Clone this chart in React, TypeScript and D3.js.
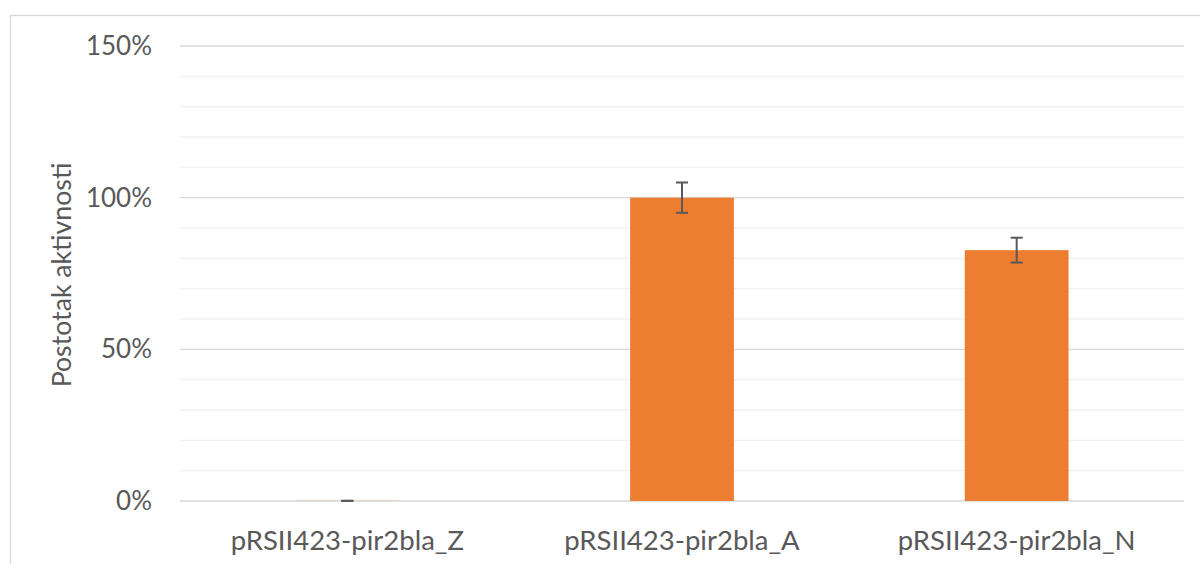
import React from "react";
import * as d3 from "d3";

const categories = ["pRSII423-pir2bla_Z", "pRSII423-pir2bla_A", "pRSII423-pir2bla_N"];
const values = [0.0005, 1.0, 0.827];
const errors = [0.0005, 0.05, 0.041];
const majorTicks = [0, 0.5, 1.0, 1.5];
const minorTicks = [0.1, 0.2, 0.3, 0.4, 0.6, 0.7, 0.8, 0.9, 1.1, 1.2, 1.3, 1.4];
const yTitle = "Postotak aktivnosti";

const W = 1200;
const H = 564;
const left = 180;
const right = 1184;
const top = 46;
const bottom = 501;
const font = "Lato, 'Open Sans', sans-serif";
const textColor = "#595959";

export default function App() {
  const x = d3.scaleBand<string>().domain(categories).range([left, right]).paddingInner(0.69).paddingOuter(0.345);
  const y = d3.scaleLinear().domain([0, 1.5]).range([bottom, top]);
  const fmt = d3.format(".0%");
  const half = 6;
  return (
    <svg width={W} height={H} style={{ position: "absolute", left: 0, top: 0, background: "#fff" }}>
      <rect x={10.5} y={15.5} width={1220} height={600} fill="#fff" stroke="#d9d9d9" strokeWidth={1.3} />
      {minorTicks.map((t) => (
        <line key={"mi" + t} x1={left} x2={right} y1={y(t)} y2={y(t)} stroke="#f0f0f0" strokeWidth={1.3} />
      ))}
      {majorTicks.map((t) => (
        <line key={"ma" + t} x1={left} x2={right} y1={y(t)} y2={y(t)} stroke="#d9d9d9" strokeWidth={1.3} />
      ))}
      {majorTicks.map((t) => (
        <text key={"tl" + t} x={152} y={y(t)} dy="0.35em" textAnchor="end" fontFamily={font} fontSize={26} fill={textColor}>
          {fmt(t)}
        </text>
      ))}
      {categories.map((c, i) => {
        const bx = x(c)!;
        const bw = x.bandwidth();
        const cx = bx + bw / 2;
        const hi = y(values[i] + errors[i]);
        const lo = y(Math.max(0, values[i] - errors[i]));
        return (
          <g key={c}>
            <rect x={bx} y={y(values[i])} width={bw} height={y(0) - y(values[i])} fill="#ED7D31" />
            <line x1={cx} x2={cx} y1={hi} y2={lo} stroke="#595959" strokeWidth={2} />
            <line x1={cx - half} x2={cx + half} y1={hi} y2={hi} stroke="#595959" strokeWidth={2} />
            <line x1={cx - half} x2={cx + half} y1={lo} y2={lo} stroke="#595959" strokeWidth={2} />
            <text x={cx} y={540} dy="0.35em" textAnchor="middle" fontFamily={font} fontSize={27.5} fill={textColor}>
              {c}
            </text>
          </g>
        );
      })}
      <text
        transform={`translate(62, ${275}) rotate(-90)`}
        textAnchor="middle"
        dy="0.35em"
        fontFamily={font}
        fontSize={26.7}
        fill={textColor}
      >
        {yTitle}
      </text>
    </svg>
  );
}
